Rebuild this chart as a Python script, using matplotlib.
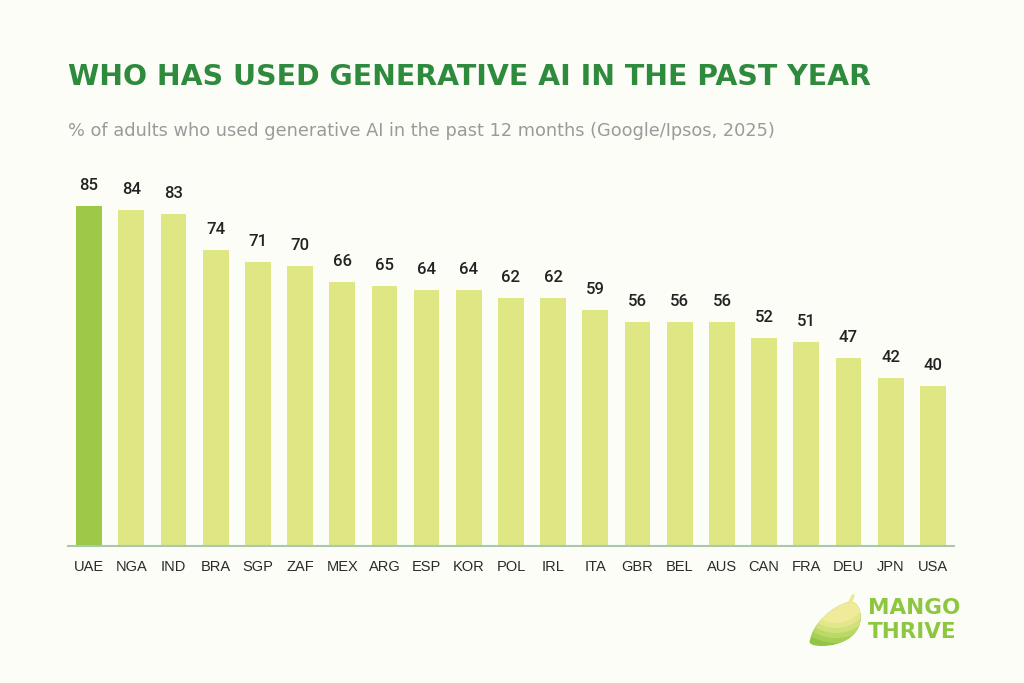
import matplotlib.pyplot as plt
from matplotlib.patches import PathPatch, Polygon, Circle
from matplotlib.path import Path
import numpy as np

## data
countries = ['UAE', 'NGA', 'IND', 'BRA', 'SGP', 'ZAF', 'MEX', 'ARG', 'ESP', 'KOR',
             'POL', 'IRL', 'ITA', 'GBR', 'BEL', 'AUS', 'CAN', 'FRA', 'DEU', 'JPN', 'USA']
values = [85, 84, 83, 74, 71, 70, 66, 65, 64, 64, 62, 62, 59, 56, 56, 56, 52, 51, 47, 42, 40]
title = 'WHO HAS USED GENERATIVE AI IN THE PAST YEAR'
subtitle = '% of adults who used generative AI in the past 12 months (Google/Ipsos, 2025)'

bg = '#fdfdf8'
highlight = '#9dc848'
bar_col = '#dfe684'

fig = plt.figure(figsize=(10.24, 6.83), dpi=100, facecolor=bg)
ax = fig.add_axes([0.0664, 0.2006, 0.8652, 0.5857])
ax.set_facecolor(bg)

x = np.arange(len(countries))
colors = [highlight] + [bar_col] * (len(countries) - 1)
ax.bar(x, values, width=0.61, color=colors, zorder=2)
for xi, v in zip(x, values):
    ax.annotate(str(v), (xi, v), xytext=(0, 9), textcoords='offset points',
                ha='center', va='bottom', fontsize=12, color='#222222',
                family='Roboto', fontweight='medium')

ax.set_xlim(-0.5, len(countries) - 0.5)
ax.set_ylim(0, 100)
ax.set_yticks([])
ax.set_xticks(x)
ax.set_xticklabels(countries, fontsize=10.5, color='#2a2a2a', family='Liberation Sans')
ax.tick_params(axis='x', length=0, pad=10)
for s in ['top', 'right', 'left']:
    ax.spines[s].set_visible(False)
ax.spines['bottom'].set_color('#a9c9ae')
ax.spines['bottom'].set_linewidth(1.5)

fig.text(0.0664, 0.8877, title, fontsize=20.4, fontweight='heavy', color='#2e8a3c',
         va='center', ha='left', family='DejaVu Sans')
fig.text(0.0664, 0.808, subtitle, fontsize=12.8, color='#9a9a9a', va='center', ha='left',
         family='DejaVu Sans')

# logo, drawn in pixel coords
lax = fig.add_axes([805 / 1024, (683 - 650) / 683, 60 / 1024, 60 / 683])
lax.set_xlim(805, 865)
lax.set_ylim(650, 590)
lax.axis('off')
verts = [(810, 640),
         (813, 624), (832, 606), (849, 602),
         (858, 600), (862, 612), (860, 623),
         (857, 636), (842, 646), (822, 646),
         (813, 646), (808, 644), (810, 640),
         (810, 640)]
codes = [Path.MOVETO] + [Path.CURVE4] * 12 + [Path.CLOSEPOLY]
mango = PathPatch(Path(verts, codes), facecolor='none', edgecolor='none')
lax.add_patch(mango)
radii = [100, 51, 46, 41, 36, 31]
band_cols = ['#92c545', '#a6cf55', '#bcd968', '#d0e17c', '#e2e78e', '#efeb9a']
for r, c in zip(radii, band_cols):
    band = Circle((836, 592), r, facecolor=c, edgecolor='none')
    lax.add_patch(band)
    band.set_clip_path(mango)
lax.add_patch(Polygon([(847, 604), (852, 594), (855, 595), (852, 604)], closed=True,
                      facecolor='#e8ea94', edgecolor='none'))
fig.text(868 / 1024, 1 - 620 / 683, 'MANGO\nTHRIVE', fontsize=15.5, fontweight='heavy',
         color='#8dc63f', va='center', ha='left', linespacing=1.2)

fig.savefig('out.png', dpi=100, facecolor=bg)
